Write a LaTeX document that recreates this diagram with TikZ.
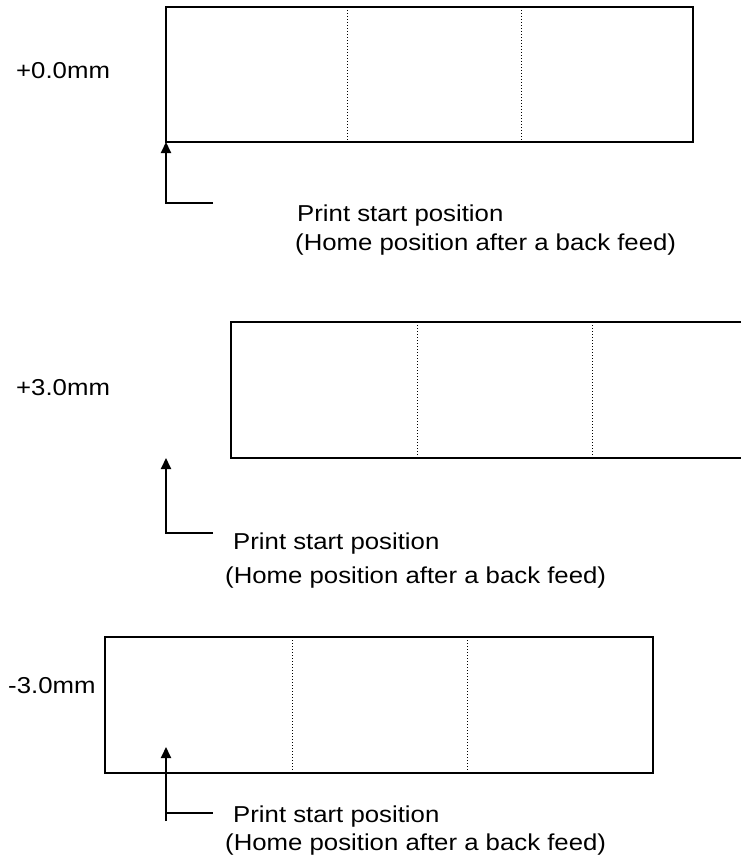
\documentclass[tikz,border=0pt]{standalone}
\usepackage{fontspec}
\setmainfont{Liberation Sans}
\usepackage{graphicx}
\usetikzlibrary{arrows.meta}
\tikzset{
 box/.style={line width=1.4pt},
 sep/.style={line width=1pt, dash pattern=on 1pt off 2pt},
 ptr/.style={line width=2pt, -{Triangle[width=10pt,length=11pt]}},
 lead/.style={line width=2pt},
 lab/.style={inner sep=0pt, anchor=base west, font=\fontsize{23}{27}\selectfont},
}
\newcommand{\widetxt}[1]{\scalebox{1.12}[1]{#1}}
\begin{document}
\begin{tikzpicture}[x=1pt,y=-1pt]
\useasboundingbox (0,0) rectangle (741,856);
% block 1
\draw[box] (166,7) rectangle (693,142);
\draw[sep] (347,7) -- (347,142);
\draw[sep] (521,7) -- (521,142);
\coordinate (t1) at (166,142);
\coordinate (b1) at (166,203);
\coordinate (e1) at (213,203);
\draw[ptr] (e1) -- (b1) -- (t1);
\node[lab] (o1) at (16,79) {\widetxt{+0.0mm}};
\node[lab] (p1) at (297,221) {\widetxt{Print start position}};
\node[lab] (h1) at (295,250) {\widetxt{(Home position after a back feed)}};
% block 2
\draw[box] (741,322) -- (231,322) -- (231,458) -- (741,458);
\draw[sep] (417,322) -- (417,458);
\draw[sep] (592,322) -- (592,458);
\coordinate (t2) at (166,458);
\coordinate (b2) at (166,533);
\coordinate (e2) at (213,533);
\draw[ptr] (e2) -- (b2) -- (t2);
\node[lab] (o2) at (16,395) {\widetxt{+3.0mm}};
\node[lab] (p2) at (233,549) {\widetxt{Print start position}};
\node[lab] (h2) at (225,583) {\widetxt{(Home position after a back feed)}};
% block 3
\draw[box] (105,637) rectangle (653,773);
\draw[sep] (292,637) -- (292,773);
\draw[sep] (467,637) -- (467,773);
\coordinate (t3) at (166,747);
\coordinate (b3) at (166,821);
\coordinate (m3) at (166,813);
\coordinate (e3) at (213,813);
\draw[ptr] (b3) -- (t3);
\draw[lead] (m3) -- (e3);
\node[lab] (o3) at (8,693) {\widetxt{-3.0mm}};
\node[lab] (p3) at (233,822) {\widetxt{Print start position}};
\node[lab] (h3) at (225,850) {\widetxt{(Home position after a back feed)}};
\end{tikzpicture}
\end{document}
